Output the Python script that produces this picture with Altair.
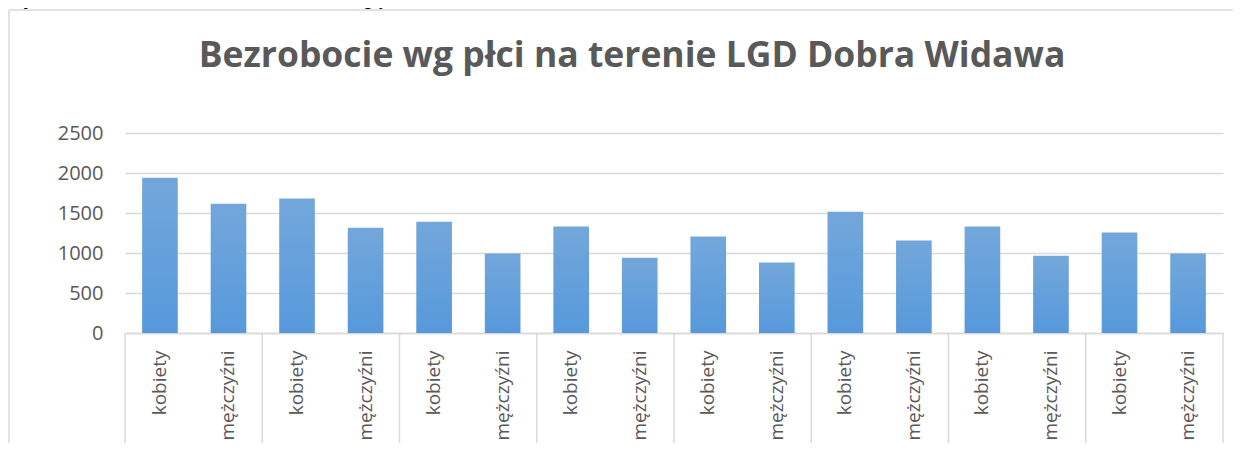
import altair as alt
import pandas as pd

# --- data ---
groups = ["1", "2", "3", "4", "5", "6", "7", "8"]
sexes = ["kobiety", "mężczyźni"]
values = [1940, 1615, 1680, 1315, 1390, 995, 1330, 940,
          1205, 880, 1515, 1155, 1330, 965, 1255, 995]
y_ticks = [0, 500, 1000, 1500, 2000, 2500]
title_text = "Bezrobocie wg płci na terenie LGD Dobra Widawa"
caption_text = "Wykres 4. Bezrobocie na obszarze LGD wg płci"

rows = []
k = 0
for g in groups:
    for s in sexes:
        rows.append({"key": f"{g}|{s}", "grupa": g, "plec": s, "wartosc": values[k]})
        k += 1
df = pd.DataFrame(rows)
bounds = pd.DataFrame({"b": list(range(len(groups) + 1))})
one = pd.DataFrame({"d": [0]})

W, H = 1098, 200
TXT = "#595959"
GRID = "#d9d9d9"
FONT = "Open Sans"

grad = alt.Gradient(
    gradient="linear",
    stops=[alt.GradientStop(color="#73a7db", offset=0),
           alt.GradientStop(color="#5699db", offset=1)],
    x1=0, x2=0, y1=0, y2=1,
)

bars = alt.Chart(df).mark_bar(color=grad).encode(
    x=alt.X("key:N", sort=None,
            scale=alt.Scale(paddingInner=0.48, paddingOuter=0.25),
            axis=alt.Axis(title=None, labelAngle=-90, labelFontSize=19, labelFont=FONT,
                          labelColor=TXT, ticks=False, labelPadding=17,
                          domainColor=GRID, domainWidth=1.5,
                          labelExpr="split(datum.label, '|')[1]")),
    y=alt.Y("wartosc:Q",
            scale=alt.Scale(domain=[0, 2500], nice=False),
            axis=alt.Axis(title=None, values=y_ticks, format="d", labelFontSize=20,
                          labelFont=FONT, labelColor=TXT, ticks=False, domain=False,
                          labelPadding=22, gridColor=GRID, gridWidth=1.5)),
)

seps = alt.Chart(bounds).mark_rule(color=GRID, strokeWidth=1.5).encode(
    x=alt.X("b:Q", scale=alt.Scale(domain=[0, len(groups)], nice=False, zero=False), axis=None),
    y=alt.value(H),
    y2=alt.value(H + 140),
)

title = alt.Chart(one).mark_text(
    text=title_text, font=FONT, fontWeight="bold", fontSize=35.5, color=TXT,
    align="center", baseline="alphabetic",
).encode(x=alt.value(507), y=alt.value(-66))

caption = alt.Chart(one).mark_text(
    text=caption_text, font="Liberation Sans", fontWeight="bold", fontStyle="italic",
    fontSize=18, color="#000000", align="left", baseline="alphabetic",
).encode(x=alt.value(-117), y=alt.value(-128))

frame_top = alt.Chart(one).mark_rule(color=GRID, strokeWidth=1.5).encode(
    x=alt.value(-116), x2=alt.value(W + 17), y=alt.value(-123),
)
frame_left = alt.Chart(one).mark_rule(color=GRID, strokeWidth=1.5).encode(
    x=alt.value(-116), y=alt.value(-123), y2=alt.value(H + 140),
)

chart = alt.layer(frame_top, frame_left, caption, title, bars, seps).resolve_scale(
    x="independent"
).properties(
    width=W, height=H,
    autosize=alt.AutoSizeParams(type="none"),
    padding={"left": 117, "top": 125, "right": 10, "bottom": 110},
).configure_view(stroke=None)

chart.save("out.html", embed_options={"renderer": "svg", "actions": False})
